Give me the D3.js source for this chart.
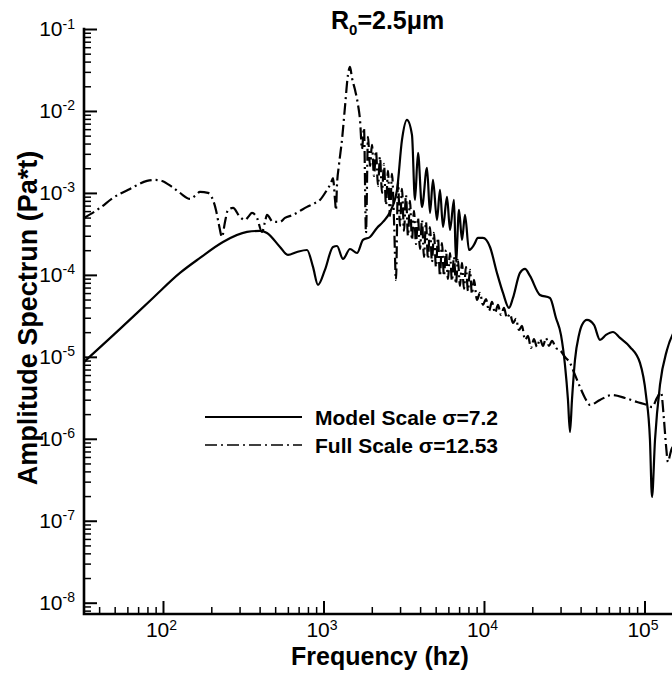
<!DOCTYPE html>
<html>
<head>
<meta charset="utf-8">
<script src="https://cdn.jsdelivr.net/npm/d3@7/dist/d3.min.js"></script>
<style>
  html, body { margin: 0; padding: 0; background: #fff; }
  svg { display: block; }
  text { font-family: "Liberation Sans", Arial, Helvetica, sans-serif; fill: #000; }
</style>
</head>
<body>
<svg id="chart" width="672" height="675"></svg>
<script>
// ---- Model scale spectrum (solid): frequency in Hz, amplitude in Pa*t ----
const modelFreq = [
  32.2, 54.0, 86.6, 127.6, 170.1, 236.5, 333.8, 402.2, 444.6, 535.8,
  600.9, 683.9, 789.4, 860.4, 924.1, 1021, 1146, 1214, 1323, 1463,
  1618, 1763, 1949, 2154, 2348, 2597, 2871, 3084, 3313, 3559,
  3716, 3881, 4109, 4415, 4609, 4811, 5095, 5319, 5555, 5883,
  6142, 6504, 6693, 6988, 7296, 7616, 8066, 8664, 9175, 9857,
  10900, 12050, 13140, 14320, 15160, 16760, 18010, 19350, 22330, 25780,
  28090, 30180, 31960, 33370, 34340, 35340, 36900, 39070, 40790, 43840,
  48460, 52820, 57550, 63640, 70370, 81220, 93760, 102200, 108200, 111400,
  116300, 124900, 138100, 154900
];
const modelAmp = [
  8.66e-6, 2.19e-5, 5.23e-5, 1.056e-4, 1.61e-4, 2.52e-4, 3.34e-4, 3.44e-4, 3.25e-4, 2.19e-4,
  1.75e-4, 1.90e-4, 2.01e-4, 1.25e-4, 7.54e-5, 1.149e-4, 2.19e-4, 2.25e-4, 1.565e-4, 2.07e-4,
  1.85e-4, 2.67e-4, 2.90e-4, 3.74e-4, 4.43e-4, 5.86e-4, 1.088e-3, 4.43e-3, 7.78e-3, 5.10e-3,
  8.21e-4, 3.08e-3, 6.75e-4, 2.02e-3, 5.70e-4, 1.44e-3, 4.68e-4, 1.088e-3, 3.84e-4, 8.94e-4,
  3.53e-4, 8.21e-4, 1.44e-4, 6.20e-4, 2.67e-4, 5.39e-4, 2.01e-4, 2.32e-4, 2.82e-4, 2.82e-4,
  2.19e-4, 1.056e-4, 6.02e-5, 3.95e-5, 5.23e-5, 1.056e-4, 1.182e-4, 9.70e-5, 5.69e-5, 5.23e-5,
  2.98e-5, 1.85e-5, 7.96e-6, 2.98e-6, 1.21e-6, 2.98e-6, 9.16e-6, 1.85e-5, 2.45e-5, 2.82e-5,
  2.45e-5, 1.61e-5, 1.85e-5, 2.01e-5, 1.70e-5, 1.32e-5, 8.42e-6, 3.42e-6, 9.67e-7, 1.95e-7,
  9.67e-7, 4.54e-6, 1.213e-5, 2.13e-5
];

// ---- Full scale spectrum (dash-dot): frequency in Hz, amplitude in Pa*t ----
const fullFreq = [
  // low-frequency hump and the resonance near 1.5 kHz
  32.2, 40.5, 48.8, 62.3, 79.5, 89.2, 98.6, 113.8, 127.6, 147.3,
  158.3, 170.1, 190.7, 204.8, 213.8, 223.3, 233.2, 243.4, 254.1, 273.1,
  301.8, 324.3, 343.5, 358.6, 385.2, 413.9, 432.1, 444.6, 484.6, 535.8,
  575.6, 645.7, 714.0, 789.4, 860.4, 951.0, 1051, 1114, 1146, 1180,
  1196, 1214, 1249, 1304, 1361, 1421, 1463, 1505, 1572, 1641,
  // rapidly oscillating part, 1.7 - 8.7 kHz
  1689, 1738, 1788, 1840, 1894, 1949, 2005, 2064, 2124, 2186,
  2249, 2315, 2382, 2452, 2523, 2597, 2672, 2750, 2830, 2912,
  2997, 3084, 3174, 3266, 3361, 3459, 3559, 3663, 3770, 3880,
  3993, 4109, 4228, 4351, 4478, 4608, 4742, 4880, 5022, 5168,
  5318, 5473, 5632, 5796, 5965, 6139, 6317, 6501, 6690, 6884,
  7085, 7291, 7503, 7721, 7946, 8177, 8415, 8660,
  // narrower oscillation, 9 - 30 kHz
  9045, 9443, 9857, 10290, 10745, 11215, 11710, 12225, 12760, 13325,
  13910, 14520, 15160, 15830, 16520, 17250, 18010, 18800, 19630, 20490,
  21390, 22330, 23320, 24340, 25410, 26530, 28090, 29750,
  // high-frequency tail
  31960, 34340, 36900, 39640, 42600, 45760, 52820, 62740, 75600, 89820,
  103700, 111400, 119700, 126700, 132300, 136100, 140100, 144200, 148400, 157100
];
const fullAmp = [
  4.95e-4, 6.56e-4, 8.69e-4, 1.119e-3, 1.40e-3, 1.44e-3, 1.40e-3, 1.183e-3, 1.0e-3, 8.44e-4,
  9.19e-4, 1.028e-3, 1.0e-3, 8.21e-4, 6.20e-4, 4.07e-4, 2.90e-4, 4.43e-4, 6.20e-4, 6.56e-4,
  5.09e-4, 4.68e-4, 5.24e-4, 5.70e-4, 4.95e-4, 3.34e-4, 4.43e-4, 5.39e-4, 4.43e-4, 4.43e-4,
  4.95e-4, 5.39e-4, 6.03e-4, 6.75e-4, 7.34e-4, 8.21e-4, 1.088e-3, 1.324e-3, 1.52e-3, 8.21e-4,
  6.20e-4, 1.25e-3, 2.20e-3, 4.43e-3, 1.12e-2, 2.75e-2, 3.45e-2, 2.53e-2, 1.81e-2, 1.19e-2,

  7.78e-3, 3.44e-3, 6.21e-3, 3.25e-4, 4.82e-3, 2.13e-3, 3.85e-3, 1.61e-3, 3.25e-3, 1.217e-3,
  2.75e-3, 1.0e-3, 2.26e-3, 7.14e-4, 1.855e-3, 5.24e-4, 1.705e-3, 4.68e-4, 8.67e-5, 1.362e-3,
  3.96e-4, 1.119e-3, 3.44e-4, 9.45e-4, 2.99e-4, 7.98e-4, 2.67e-4, 6.03e-4, 2.38e-4, 4.95e-4,
  2.07e-4, 4.68e-4, 1.655e-4, 4.43e-4, 1.565e-4, 3.84e-4, 1.44e-4, 3.25e-4, 1.25e-4, 2.82e-4,
  9.70e-5, 2.45e-4, 9.70e-5, 2.01e-4, 8.92e-5, 1.85e-4, 8.43e-5, 1.655e-4, 7.75e-5, 1.522e-4,
  7.33e-5, 1.398e-4, 6.73e-5, 1.25e-4, 6.37e-5, 1.149e-4, 5.85e-5, 8.67e-5,

  4.94e-5, 6.02e-5, 4.30e-5, 5.08e-5, 3.63e-5, 4.67e-5, 3.43e-5, 4.30e-5, 3.24e-5, 3.95e-5,
  2.98e-5, 3.34e-5, 2.59e-5, 2.90e-5, 2.13e-5, 2.38e-5, 1.61e-5, 1.80e-5, 1.283e-5, 1.65e-5,
  1.32e-5, 1.65e-5, 1.357e-5, 1.70e-5, 1.357e-5, 1.562e-5, 1.283e-5, 1.213e-5,

  9.96e-6, 8.42e-6, 6.01e-6, 4.29e-6, 3.15e-6, 2.59e-6, 2.98e-6, 3.42e-6, 3.15e-6, 2.81e-6,
  2.59e-6, 2.44e-6, 3.15e-6, 3.72e-6, 1.70e-6, 8.41e-7, 5.21e-7, 6.34e-7, 7.72e-7, 8.41e-7
];

// ---- Tick labels (powers of ten) ----
const xTickExponents = ["2", "3", "4", "5"];
const yTickExponents = ["-1", "-2", "-3", "-4", "-5", "-6", "-7", "-8"];

// ---- Text ----
const seriesNames = ["Model Scale \u03C3=7.2", "Full Scale \u03C3=12.53"];
const xTitle = "Frequency (hz)";
const yTitle = "Amplitude Spectrun (Pa*t)";

// ---- Layout ----
const svg = d3.select("#chart");
const plotLeft = 84, plotRight = 700, plotTop = 29, plotBottom = 614;

const x = d3.scaleLog().domain([32.2, 2.218e5]).range([plotLeft, plotRight]);
const y = d3.scaleLog().domain([7.28e-9, 1e-1]).range([plotBottom, plotTop]);

const xMajor = xTickExponents.map(e => Math.pow(10, +e));
const yMajor = yTickExponents.map(e => Math.pow(10, +e));
const isPow10 = v => Math.abs(Math.log10(v) - Math.round(Math.log10(v))) < 1e-9;
const xMinor = x.ticks().filter(v => !isPow10(v));
const yMinor = y.ticks().filter(v => !isPow10(v));

// clip for data lines
svg.append("defs").append("clipPath").attr("id", "plotClip")
  .append("rect").attr("x", plotLeft).attr("y", plotTop - 2)
  .attr("width", plotRight - plotLeft).attr("height", plotBottom - plotTop + 2);

// ---- Axes: ticks point into the plot ----
function styleTicks(g, w) {
  g.select(".domain").remove();
  g.selectAll(".tick line").attr("stroke", "#000").attr("stroke-width", w);
}

// x minor + major
svg.append("g").attr("transform", `translate(0,${plotBottom})`)
  .call(d3.axisBottom(x).tickValues(xMinor).tickSize(-7).tickFormat(""))
  .call(g => styleTicks(g, 1.5));
const gxMaj = svg.append("g").attr("transform", `translate(0,${plotBottom})`)
  .call(d3.axisBottom(x).tickValues(xMajor).tickSize(-13).tickPadding(8).tickFormat(() => ""))
  .call(g => styleTicks(g, 2));
gxMaj.selectAll(".tick text").each(function(d, i) {
  const t = d3.select(this).attr("x", -2)
    .style("font-size", "21px").attr("text-anchor", "middle");
  t.append("tspan").text("10");
  t.append("tspan").attr("dy", "-0.5em").style("font-size", "14px").text(xTickExponents[i]);
});

// y minor + major
svg.append("g").attr("transform", `translate(${plotLeft},0)`)
  .call(d3.axisLeft(y).tickValues(yMinor).tickSize(-7).tickFormat(""))
  .call(g => styleTicks(g, 1.5));
const gyMaj = svg.append("g").attr("transform", `translate(${plotLeft},0)`)
  .call(d3.axisLeft(y).tickValues(yMajor).tickSize(-13).tickPadding(9).tickFormat(() => ""))
  .call(g => styleTicks(g, 2));
gyMaj.selectAll(".tick text").each(function(d, i) {
  const t = d3.select(this).style("font-size", "21px");
  t.append("tspan").text("10");
  t.append("tspan").attr("dy", "-0.55em").style("font-size", "14px").text(yTickExponents[i]);
});

// thick axis frame (left and bottom)
svg.append("path")
  .attr("d", `M${plotLeft},${plotTop}V${plotBottom}H${plotRight}`)
  .attr("fill", "none").attr("stroke", "#000").attr("stroke-width", 2.6)
  .attr("stroke-linecap", "square");

// ---- Data lines ----
const line = d3.line().x(d => x(d[0])).y(d => y(d[1])).curve(d3.curveMonotoneX);
const modelData = modelFreq.map((f, i) => [f, modelAmp[i]]);
const fullData = fullFreq.map((f, i) => [f, fullAmp[i]]);

const plot = svg.append("g").attr("clip-path", "url(#plotClip)");
plot.append("path").datum(fullData)
  .attr("d", line).attr("fill", "none")
  .attr("stroke", "#000").attr("stroke-width", 2.2)
  .attr("stroke-dasharray", "12,4,2,4");
plot.append("path").datum(modelData)
  .attr("d", line).attr("fill", "none")
  .attr("stroke", "#000").attr("stroke-width", 2.2)
  .attr("stroke-linejoin", "round");

// ---- Legend ----
const legend = svg.append("g");
const legendRows = [
  { name: seriesNames[0], dash: null, width: 2, ly: 417 },
  { name: seriesNames[1], dash: "12,4,2,4", width: 1.7, ly: 445 }
];
legendRows.forEach(r => {
  legend.append("line").attr("x1", 205).attr("x2", 302).attr("y1", r.ly).attr("y2", r.ly)
    .attr("stroke", "#000").attr("stroke-width", r.width)
    .attr("stroke-dasharray", r.dash);
  legend.append("text").attr("x", 315).attr("y", r.ly + 8)
    .style("font-size", "21px").style("font-weight", "bold").text(r.name);
});

// ---- Titles ----
const ttl = svg.append("text").attr("x", 331).attr("y", 29)
  .style("font-size", "25px").style("font-weight", "bold");
ttl.append("tspan").text("R");
ttl.append("tspan").attr("dy", 6).style("font-size", "15px").text("0");
ttl.append("tspan").attr("dy", -6).text("=2.5\u03BCm");

svg.append("text").attr("x", 380).attr("y", 665).attr("text-anchor", "middle")
  .style("font-size", "25px").style("font-weight", "bold").text(xTitle);

svg.append("text").attr("transform", "translate(37,318) rotate(-90)")
  .attr("text-anchor", "middle")
  .style("font-size", "27px").style("font-weight", "bold").text(yTitle);
</script>
</body>
</html>
